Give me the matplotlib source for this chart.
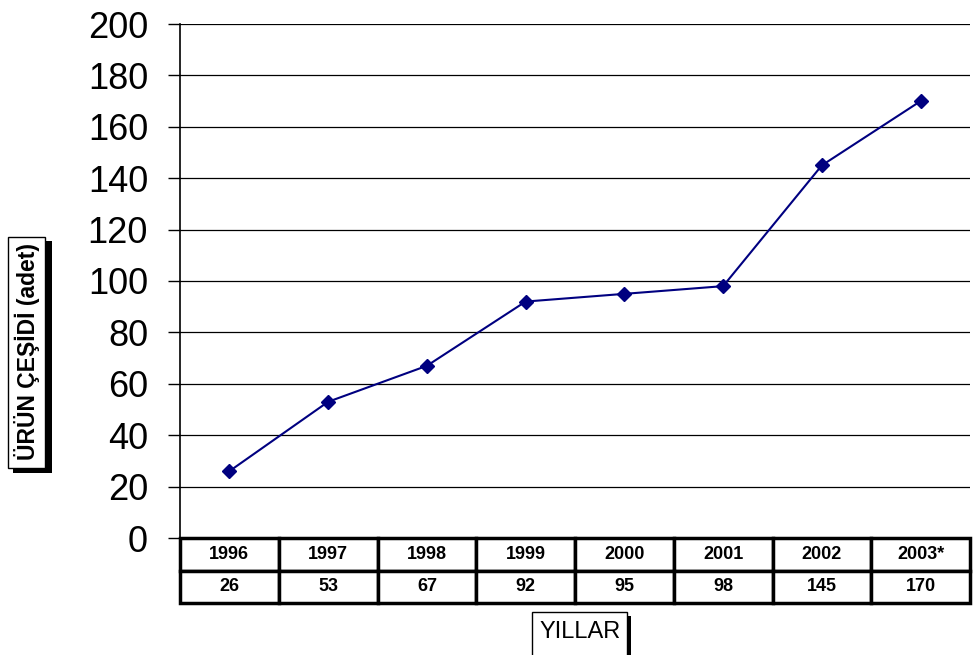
import matplotlib.pyplot as plt
from matplotlib.patches import Rectangle

plt.rcParams['font.family'] = ['Liberation Sans', 'DejaVu Sans']

years = ['1996', '1997', '1998', '1999', '2000', '2001', '2002', '2003*']
counts = [26, 53, 67, 92, 95, 98, 145, 170]

W, H = 973, 655
fig = plt.figure(figsize=(W / 100, H / 100), dpi=100)
ax = fig.add_axes([180 / W, (H - 538) / H, 790 / W, 514 / H])

x = list(range(len(years)))
ax.plot(x, counts, color='#000080', lw=1.5, marker='D', markersize=7,
        markerfacecolor='#000080', markeredgecolor='#000080', zorder=3)

ax.set_xlim(-0.5, len(years) - 0.5)
ax.set_ylim(0, 200)
ax.set_yticks(range(0, 201, 20))
ax.tick_params(axis='y', labelsize=26, length=9, width=1, direction='out', pad=14)
ax.set_xticks([])
ax.yaxis.grid(True, color='black', lw=0.9)
ax.set_axisbelow(True)
for s in ['top', 'right', 'bottom']:
    ax.spines[s].set_visible(False)
ax.spines['left'].set_linewidth(1.2)

# data table under the chart
tbl = ax.table(cellText=[years, [str(v) for v in counts]], cellLoc='center',
               bbox=[0, -65 / 514, 1, 65 / 514])
tbl.auto_set_font_size(False)
for (r, c), cell in tbl.get_celld().items():
    cell.set_linewidth(2.5)
    cell.set_edgecolor('black')
    cell.get_text().set_fontsize(13)
    cell.get_text().set_fontweight('bold')


def px_box(x0, y0, x1, y1, **kw):
    # rectangle given in image pixels (top-left origin)
    fig.add_artist(Rectangle((x0 / 100, (H - y1) / 100), (x1 - x0) / 100, (y1 - y0) / 100,
                             transform=fig.dpi_scale_trans, **kw))


# y label box with shadow
px_box(13, 241, 52, 473, fc='black', ec='none', zorder=1)
px_box(8, 237, 45, 468, fc='white', ec='black', lw=1, zorder=2)
fig.text(27 / W, 1 - 352 / H, 'ÜRÜN ÇEŞİDİ (adet)', rotation=90, fontsize=16.5,
         fontweight='bold', ha='center', va='center', zorder=3)

# x label box with shadow
px_box(536, 616, 631, 670, fc='black', ec='none', zorder=1)
px_box(532, 612, 627, 670, fc='white', ec='black', lw=1, zorder=2)
fig.text(580 / W, 1 - 632 / H, 'YILLAR', fontsize=17, ha='center', va='center', zorder=3)

fig.savefig('out.png', dpi=100)
